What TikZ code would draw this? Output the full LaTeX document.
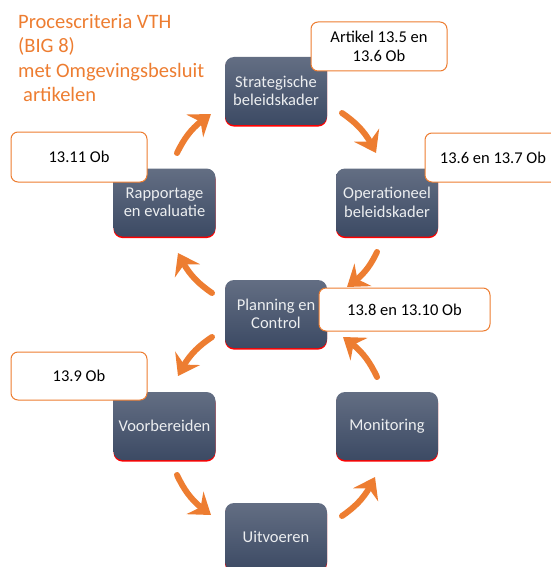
\documentclass[tikz,border=0pt]{standalone}
\usepackage{fontspec}
\setmainfont{Carlito}
\usepackage{xcolor}
\usetikzlibrary{calc,arrows.meta,bending,shadows}
\definecolor{vthorange}{HTML}{ED7D31}
\definecolor{boxtop}{HTML}{636E83}
\definecolor{boxbot}{HTML}{3C4A64}
\tikzset{>={Stealth[length=20pt,width=28pt,inset=7pt]}}
\tikzset{
  stap/.style={rounded corners=9pt, minimum width=102pt, minimum height=68pt,
    inner sep=2pt, align=center, top color=boxtop, bottom color=boxbot,
    text=white!88!boxtop, font=\fontsize{16.5}{18.5}\selectfont,
    drop shadow={shadow xshift=0pt, shadow yshift=-1.6pt, fill=red, opacity=1}},
  artikel/.style={draw=vthorange, line width=1pt, fill=white, rounded corners=7pt,
    align=center, inner sep=2pt, font=\fontsize{16.5}{18.5}\selectfont},
  pijl/.style={->, vthorange, line width=6pt, line cap=round}
}

\begin{document}
\begin{tikzpicture}[x=1pt,y=1pt]
  \useasboundingbox (0,0) rectangle (550,-567);

  % Title (anchored at the baseline of its last line)
  \node[anchor=base west, inner sep=0, align=left, text=vthorange,
        font=\fontsize{20.5}{24.5}\selectfont] (titel) at (18,-102)
        {Procescriteria VTH\\(BIG 8)\\met Omgevingsbesluit\\\hspace*{5pt}artikelen};

  % Process steps
  \node[stap] (str) at (276,-91)    {Strategische\\beleidskader};
  \node[stap] (ope) at (387,-202.5) {Operationeel\\beleidskader};
  \node[stap] (rap) at (164.5,-202.5) {Rapportage\\en evaluatie};
  \node[stap] (pla) at (276,-314)   {Planning en\\Control};
  \node[stap] (voo) at (164.5,-426) {Voorbereiden};
  \node[stap] (mon) at (387,-426)   {Monitoring};
  \node[stap] (uit) at (276,-537)   {Uitvoeren};

  % Cycle arrows (upper loop clockwise, lower loop counter-clockwise)
  \foreach \van/\vx/\vy/\naar/\nx/\ny/\buig in {
      rap/12.5/49.5/str/-65/-23/15, str/66/-22/ope/-11/49.5/15,
      ope/-10/-49.5/pla/71/27/15, pla/-64/21/rap/13.5/-50.5/15,
      pla/-64/-23/voo/13.5/50/-15, voo/12.5/-49/uit/-65/22/-15,
      uit/66/21/mon/-12/-51/-15, mon/-10/49/pla/67/-23/-15} {
    \draw[pijl] ($(\van)+(\vx,\vy)$) to[bend left=\buig] ($(\naar)+(\nx,\ny)$);
  }

  % Articles
  \node[artikel, minimum width=136pt, minimum height=49pt] (a1) at (379,-46.5) {Artikel 13.5 en\\13.6 Ob};
  \node[artikel, minimum width=136pt, minimum height=49pt] (a2) at (493,-157.5) {13.6 en 13.7 Ob};
  \node[artikel, minimum width=136pt, minimum height=50pt] (a3) at (79,-157) {13.11 Ob};
  \node[artikel, minimum width=171pt, minimum height=43pt] (a4) at (404.5,-309.5) {13.8 en 13.10 Ob};
  \node[artikel, minimum width=136pt, minimum height=48pt] (a5) at (79,-376) {13.9 Ob};

\end{tikzpicture}
\end{document}
